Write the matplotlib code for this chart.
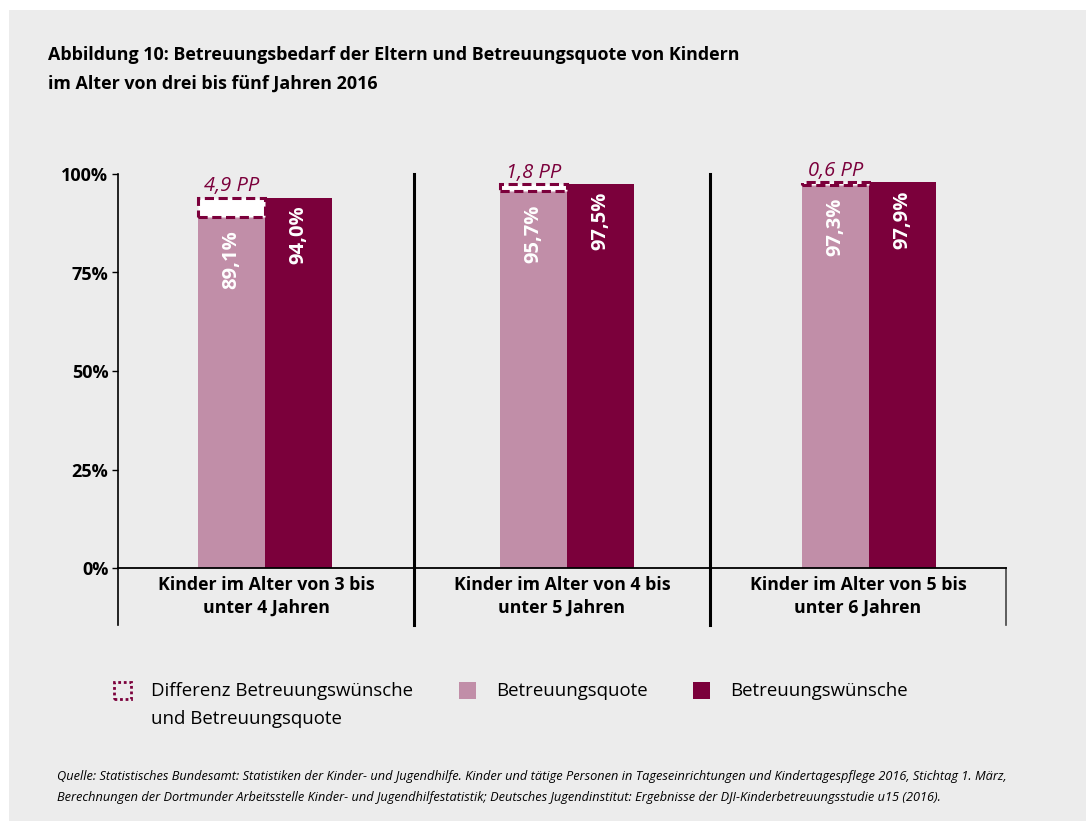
import matplotlib
matplotlib.use("Agg")
import matplotlib.pyplot as plt
from matplotlib.patches import Rectangle
import numpy as np

plt.rcParams['font.family'] = ['Open Sans', 'DejaVu Sans']

# data
categories = ["Kinder im Alter von 3 bis\nunter 4 Jahren",
              "Kinder im Alter von 4 bis\nunter 5 Jahren",
              "Kinder im Alter von 5 bis\nunter 6 Jahren"]
quote = [89.1, 95.7, 97.3]      # Betreuungsquote
wuensche = [94.0, 97.5, 97.9]   # Betreuungswuensche
diff_labels = ["4,9 PP", "1,8 PP", "0,6 PP"]
yticks = [0, 25, 50, 75, 100]

light = '#c18ea8'
dark = '#7b003b'
bg = '#ececec'

W, H = 1086, 821
fig = plt.figure(figsize=(W / 100, H / 100), dpi=100)
fig.patch.set_facecolor('white')
fig.patches.append(Rectangle((9 / W, 0), 1, 1 - 10 / H, transform=fig.transFigure,
                             facecolor=bg, edgecolor='none', zorder=-10))

def fx(px):
    return px / W

def fy(py):
    return 1 - py / H

ax = fig.add_axes([fx(118), fy(568), fx(1006) - fx(118), fy(174) - fy(568)])
ax.set_facecolor('none')
ax.set_xlim(0, 3)
ax.set_ylim(0, 100)
for s in ['top', 'right', 'left']:
    ax.spines[s].set_visible(False)
ax.spines['bottom'].set_linewidth(1.3)
ax.set_xticks([])
ax.set_yticks(yticks)
ax.set_yticklabels([f"{v}%" for v in yticks], fontsize=13, fontweight='bold')
ax.tick_params(axis='y', length=4, width=1, pad=3)

ybot = -14.5
# y axis line, separators, right edge line
ax.plot([0, 0], [ybot, 100], color='black', lw=1.2, clip_on=False)
ax.plot([1, 1], [ybot, 100], color='black', lw=2.2, clip_on=False)
ax.plot([2, 2], [ybot, 100], color='black', lw=2.2, clip_on=False)
ax.plot([3, 3], [ybot, 0], color='#444444', lw=1.2, clip_on=False)

bw = 67 / 296
x = np.arange(3) + 0.5           # category centres
xb = np.array([0.497, 1.517, 2.537])  # bar pair centres (slightly offset as in original)
ax.bar(xb - bw / 2, quote, width=bw, color=light, zorder=2)
ax.bar(xb + bw / 2, wuensche, width=bw, color=dark, zorder=2)

for i in range(3):
    d = wuensche[i] - quote[i]
    ax.add_patch(Rectangle((xb[i] - bw, quote[i]), bw, d, facecolor='white',
                           edgecolor=dark, linestyle=(0, (3, 1.5)), lw=2.2, zorder=3))
    ax.text(xb[i] - bw / 2, wuensche[i] + 0.3, diff_labels[i], ha='center', va='bottom',
            fontsize=14.5, style='italic', color=dark)
    ax.text(xb[i] - bw / 2, quote[i] - 3.4, f"{quote[i]:.1f}%".replace('.', ','),
            rotation=90, ha='center', va='top', color='white', fontsize=14.5,
            fontweight='bold', zorder=4)
    ax.text(xb[i] + bw / 2, wuensche[i] - 2.0, f"{wuensche[i]:.1f}%".replace('.', ','),
            rotation=90, ha='center', va='top', color='white', fontsize=14.5,
            fontweight='bold', zorder=4)
    ax.text(x[i], -2.1, categories[i], ha='center', va='top', fontsize=12.8,
            fontweight='bold', linespacing=1.3)

# title
fig.text(fx(48), fy(55), "Abbildung 10: Betreuungsbedarf der Eltern und Betreuungsquote von Kindern",
         fontsize=12.9, fontweight='bold', va='center', ha='left')
fig.text(fx(48), fy(84), "im Alter von drei bis fünf Jahren 2016",
         fontsize=12.9, fontweight='bold', va='center', ha='left')

# legend
sq = 17
fig.patches.append(Rectangle((fx(114), fy(699)), sq / W, sq / H, transform=fig.transFigure,
                             facecolor='none', edgecolor=dark, linestyle=(0, (1, 1)), lw=2))
fig.patches.append(Rectangle((fx(459), fy(699)), sq / W, sq / H, transform=fig.transFigure,
                             facecolor=light, edgecolor='none'))
fig.patches.append(Rectangle((fx(693), fy(699)), sq / W, sq / H, transform=fig.transFigure,
                             facecolor=dark, edgecolor='none'))
fig.text(fx(151), fy(691), "Differenz Betreuungswünsche", fontsize=13.4, va='center')
fig.text(fx(151), fy(719), "und Betreuungsquote", fontsize=13.4, va='center')
fig.text(fx(496), fy(691), "Betreuungsquote", fontsize=13.4, va='center')
fig.text(fx(730), fy(691), "Betreuungswünsche", fontsize=13.4, va='center')

# source
fig.text(fx(57), fy(776), "Quelle: Statistisches Bundesamt: Statistiken der Kinder- und Jugendhilfe. Kinder und tätige Personen in Tageseinrichtungen und Kindertagespflege 2016, Stichtag 1. März,",
         fontsize=9.2, style='italic', va='center')
fig.text(fx(57), fy(797), "Berechnungen der Dortmunder Arbeitsstelle Kinder- und Jugendhilfestatistik; Deutsches Jugendinstitut: Ergebnisse der DJI-Kinderbetreuungsstudie u15 (2016).",
         fontsize=9.2, style='italic', va='center')

fig.savefig("out.png", dpi=100, facecolor=fig.get_facecolor())
